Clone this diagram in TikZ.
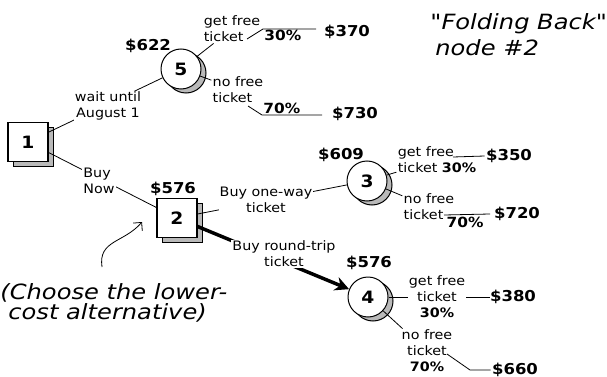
\documentclass[tikz,border=0pt]{standalone}
\usepackage{fontspec}
\setmainfont{DejaVu Sans}[FakeStretch=1.1]
\newfontfamily\notefont{DejaVu Sans}[FakeStretch=1.15]
\usetikzlibrary{arrows.meta,shadows,positioning}

\tikzset{
  lbl/.style={font=\fontsize{13}{16}\selectfont, inner sep=1pt, align=center},
  lbll/.style={lbl, align=left},
  online/.style={lbl, fill=white},
  pay/.style={font=\fontsize{15}{16}\selectfont\bfseries, inner sep=1pt},
  pct/.style={font=\fontsize{14}{15}\selectfont\bfseries, inner sep=1pt},
  decbox/.style={draw, line width=1.2pt, fill=white, minimum width=40pt, minimum height=39pt,
    font=\fontsize{17}{17}\selectfont\bfseries,
    copy shadow={shadow xshift=5pt, shadow yshift=-5pt, fill=gray!55, draw, line width=1pt}},
  chance/.style={circle, draw, line width=1pt, fill=white, minimum size=40pt, inner sep=0pt,
    font=\fontsize{17}{17}\selectfont\bfseries,
    copy shadow={shadow xshift=5pt, shadow yshift=-4pt, fill=gray!55, draw, line width=1pt}},
  note/.style={font=\notefont\itshape\fontsize{21}{20}\selectfont, align=left, inner sep=0pt},
}

\begin{document}
\begin{tikzpicture}[x=1pt,y=-1pt,line width=.8pt]
  \useasboundingbox (0,0) rectangle (607,377);

  % free ends of the short leader lines
  \coordinate (o5t) at (247,39);
  \coordinate (o5a) at (263,29);
  \coordinate (o5b) at (316,29);
  \coordinate (n5t) at (248,106);
  \coordinate (n5a) at (262,115);
  \coordinate (n5b) at (322,115);
  \coordinate (g3a) at (453,157);
  \coordinate (n3a) at (444,215);
  \coordinate (n4t) at (447,354);
  \coordinate (n4a) at (470,370);

  % decision and chance nodes
  \node[decbox] (n1) at (28,142) {1};
  \node[chance] (n5) at (181,69) {5};
  \node[decbox] (n2) at (177,218) {2};
  \node[chance] (n3) at (367,181) {3};
  \node[chance] (n4) at (368,297) {4};

  \draw (n1) -- (n5);
  \draw (n1) -- (n2);
  \draw (n2) -- (n3);
  \draw[line width=3.5pt,-{Stealth[length=14pt,width=14pt]}] (n2) -- (n4);
  \draw (n4) -- (n4.east -| 490,0);

  \node[online] (wait) at (108,106) {wait until\\August 1};
  \node[online,align=left] (now) at (99,181) {Buy\\Now};
  \node[online] (oneway) at (266,200) {Buy one-way\\ticket};
  \node[online] (round) at (284,254) {Buy round-trip\\ticket};

  % expected values
  \node[pay] (v622) at (148,46) {\$622};
  \node[pay] (v576a) at (173,189) {\$576};
  \node[pay] (v609) at (341,155) {\$609};
  \node[pay] (v576b) at (369,263) {\$576};

  % end values
  \node[pay] (v370) at (347,32) {\$370};
  \node[pay] (v730) at (355,114) {\$730};
  \node[pay] (v350) at (509,156) {\$350};
  \node[pay] (v720) at (517,214) {\$720};
  \node[pay] (v380) at (513,297) {\$380};
  \node[pay] (v660) at (515,370) {\$660};

  % node 5
  \node[lbll] (gf5) at (232,29) {get free\\ticket};
  \node[lbll] (nf5) at (238,90) {no free\\ticket};
  \draw (n5) -- (gf5);
  \draw (n5) -- (nf5);
  \draw (o5t) -- (o5a) -- (o5b);
  \draw (n5t) -- (n5a) -- (n5b);
  \node[pct,anchor=north west] (p5a) at (o5a) {30\%};
  \node[pct,anchor=south west] (p5b) at (n5a) {70\%};

  % node 3
  \node[lbll] (gf3) at (437,160) {get free\\ticket \textbf{30\%}};
  \node[lbll] (nf3) at (429,207) {no free\\ticket};
  \draw (n3) -- (gf3);
  \draw (n3) -- (nf3);
  \draw (g3a) -- (v350.west);
  \draw (n3a) -- (v720.west -| 490,0);
  \node[pct,anchor=north] (p3b) at (465,216) {70\%};

  % node 4
  \node[online] (gf4) at (437,297) {get free\\ticket\\\textbf{30\%}};
  \node[lbl] (nf4) at (427,351) {no free\\ticket\\\textbf{70\%}};
  \draw (n4) -- (nf4);
  \draw (n4t) -- (n4a) -- (v660.west);

  % notes
  \node[note,anchor=north west,font=\notefont\itshape\fontsize{21}{26}\selectfont] (title) at (430,13) {"Folding Back"\\\hspace*{5pt}node \#2};
  \node[note,anchor=north west] (hint) at (0,283) {(Choose the lower-\\\hspace*{8pt}cost alternative)};
  \coordinate (hs) at (102,267);
  \coordinate (he) at (142,222);
  \draw[-{Straight Barb[length=6pt]}] (hs) .. controls (98,240) and (124,243) .. (he);
\end{tikzpicture}
\end{document}
